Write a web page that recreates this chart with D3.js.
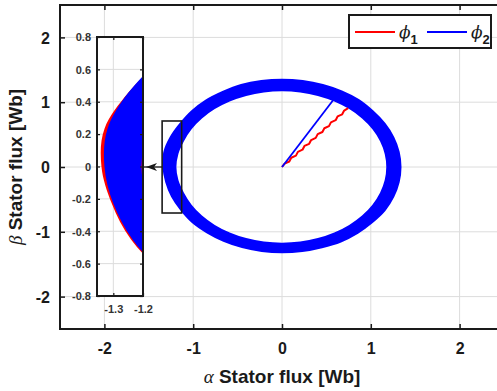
<!DOCTYPE html>
<html>
<head>
<meta charset="utf-8">
<script src="https://cdn.jsdelivr.net/npm/d3@7"></script>
<style>
  html, body { margin: 0; padding: 0; background: #fff; }
  svg { display: block; }
  text { font-family: "Liberation Sans", Arial, Helvetica, sans-serif; }
</style>
</head>
<body>
<svg id="chart" width="497" height="391"></svg>
<script>
// ---- tick values ----
const xTicks = [-2, -1, 0, 1, 2];
const yTicks = [-2, -1, 0, 1, 2];
const insetXTicks = [-1.3, -1.2];
const insetYTicks = [-0.8, -0.6, -0.4, -0.2, 0, 0.2, 0.4, 0.6, 0.8];

// ---- stator flux locus: envelope radii [Wb] of the trajectory band, every 10 deg ----
const fluxAngle = [0, 10, 20, 30, 40, 50, 60, 70, 80, 90, 100, 110, 120, 130, 140, 150, 160, 170,
                   180, 190, 200, 210, 220, 230, 240, 250, 260, 270, 280, 290, 300, 310, 320, 330, 340, 350];
const phi2Outer = [1.33, 1.33, 1.33, 1.33, 1.33, 1.34, 1.34, 1.34, 1.34, 1.34, 1.34, 1.34, 1.33, 1.33, 1.325, 1.32, 1.33, 1.34,
                   1.33, 1.32, 1.315, 1.31, 1.315, 1.31, 1.31, 1.31, 1.31, 1.31, 1.31, 1.31, 1.32, 1.32, 1.32, 1.33, 1.33, 1.33];
const phi2Inner = [1.19, 1.19, 1.19, 1.19, 1.19, 1.19, 1.19, 1.19, 1.19, 1.19, 1.19, 1.19, 1.19, 1.19, 1.19, 1.19, 1.19, 1.2,
                   1.205, 1.2, 1.19, 1.19, 1.19, 1.19, 1.19, 1.19, 1.19, 1.19, 1.19, 1.19, 1.19, 1.19, 1.19, 1.19, 1.19, 1.19];
const phi1Outer = [1.325, 1.325, 1.325, 1.325, 1.325, 1.335, 1.335, 1.335, 1.335, 1.335, 1.335, 1.335, 1.325, 1.325, 1.32, 1.315, 1.33, 1.35,
                   1.34, 1.325, 1.32, 1.31, 1.31, 1.305, 1.305, 1.305, 1.305, 1.305, 1.305, 1.305, 1.315, 1.315, 1.315, 1.325, 1.325, 1.325];
const phi1Inner = [1.195, 1.195, 1.195, 1.195, 1.195, 1.195, 1.195, 1.195, 1.195, 1.195, 1.195, 1.195, 1.195, 1.195, 1.195, 1.195, 1.195, 1.2,
                   1.2, 1.195, 1.195, 1.195, 1.195, 1.195, 1.195, 1.195, 1.195, 1.195, 1.195, 1.195, 1.195, 1.195, 1.195, 1.195, 1.195, 1.195];

// ---- flux space vectors ----
const phi1VecAlpha = [0, 0.030, 0.082, 0.104, 0.157, 0.179, 0.231, 0.253, 0.306, 0.328, 0.380,
                      0.402, 0.455, 0.477, 0.529, 0.551, 0.604, 0.626, 0.678, 0.700, 0.745];
const phi1VecBeta  = [0, 0.052, 0.085, 0.143, 0.176, 0.234, 0.267, 0.325, 0.358, 0.416, 0.449,
                      0.507, 0.540, 0.598, 0.631, 0.689, 0.722, 0.780, 0.813, 0.871, 0.910];
const phi2VecAlpha = [0, 0.575];
const phi2VecBeta  = [0, 1.03];

// ---- magnified region ----
const zoomAlpha = [-1.35, -1.13];
const zoomBeta  = [-0.71, 0.71];

const legendItems = [
  { name: "ϕ", sub: "1", color: "#ff0000" },
  { name: "ϕ", sub: "2", color: "#0000ff" }
];

const RED = "#ff0000", BLUE = "#0000ff", INK = "#1a1a1a", GRID = "#dcdcdc";

const svg = d3.select("#chart");

// main axes
const x = d3.scaleLinear().domain([-2.5, 2.5]).range([60, 504]);
const y = d3.scaleLinear().domain([-2.5, 2.5]).range([329, 5]);
// inset axes
const ix = d3.scaleLinear().domain([-1.355, -1.2]).range([97, 143]);
const iy = d3.scaleLinear().domain([-0.8, 0.8]).range([296, 37]);

const defs = svg.append("defs");
defs.append("clipPath").attr("id", "clipMain").append("rect")
  .attr("x", x.range()[0]).attr("y", y.range()[1])
  .attr("width", x.range()[1] - x.range()[0]).attr("height", y.range()[0] - y.range()[1]);
defs.append("clipPath").attr("id", "clipInset").append("rect")
  .attr("x", ix.range()[0]).attr("y", iy.range()[1])
  .attr("width", ix.range()[1] - ix.range()[0]).attr("height", iy.range()[0] - iy.range()[1]);

function loop(radii, sx, sy) {
  const pts = fluxAngle.map((a, i) => {
    const t = a * Math.PI / 180;
    return [sx(radii[i] * Math.cos(t)), sy(radii[i] * Math.sin(t))];
  });
  return d3.line().curve(d3.curveCardinalClosed)(pts);
}
function ring(outer, inner, sx, sy) { return loop(outer, sx, sy) + loop(inner, sx, sy); }

// ---------- main plot ----------
const grid = svg.append("g");
grid.selectAll(".gx").data(xTicks).join("line")
  .attr("x1", d => x(d)).attr("x2", d => x(d)).attr("y1", y.range()[1]).attr("y2", y.range()[0])
  .attr("stroke", GRID).attr("stroke-width", 1);
grid.selectAll(".gy").data(yTicks).join("line")
  .attr("y1", d => y(d)).attr("y2", d => y(d)).attr("x1", x.range()[0]).attr("x2", x.range()[1])
  .attr("stroke", GRID).attr("stroke-width", 1);

const plot = svg.append("g").attr("clip-path", "url(#clipMain)");
plot.append("path").attr("d", ring(phi1Outer, phi1Inner, x, y))
  .attr("fill", RED).attr("fill-rule", "evenodd");
plot.append("path").attr("d", ring(phi2Outer, phi2Inner, x, y))
  .attr("fill", BLUE).attr("fill-rule", "evenodd")
  .attr("stroke", BLUE).attr("stroke-width", 2.8);

const vecLine = d3.line().x(d => x(d[0])).y(d => y(d[1]));
plot.append("path").attr("d", vecLine(d3.zip(phi1VecAlpha, phi1VecBeta)))
  .attr("fill", "none").attr("stroke", RED).attr("stroke-width", 2).attr("stroke-linejoin", "round");
plot.append("path").attr("d", vecLine(d3.zip(phi2VecAlpha, phi2VecBeta)))
  .attr("fill", "none").attr("stroke", BLUE).attr("stroke-width", 1.8);

// magnified region box
plot.append("rect")
  .attr("x", x(zoomAlpha[0])).attr("y", y(zoomBeta[1]))
  .attr("width", x(zoomAlpha[1]) - x(zoomAlpha[0])).attr("height", y(zoomBeta[0]) - y(zoomBeta[1]))
  .attr("fill", "none").attr("stroke", INK).attr("stroke-width", 1.6);

// arrow from the region box to the inset
const ay = y(0);
const tipX = ix.range()[1] + 3;
svg.append("line").attr("x1", x(zoomAlpha[0])).attr("x2", ix.range()[1]).attr("y1", ay).attr("y2", ay)
  .attr("stroke", INK).attr("stroke-width", 1.3);
svg.append("path")
  .attr("d", `M${tipX},${ay} L${tipX + 11},${ay - 4} L${tipX + 8},${ay} L${tipX + 11},${ay + 4} Z`)
  .attr("fill", INK);

// main axes: ticks and labels
const fmt = d => String(d);
const axBottom = svg.append("g").attr("transform", `translate(0,${y.range()[0]})`)
  .call(d3.axisBottom(x).tickValues(xTicks).tickSize(-5).tickPadding(14).tickFormat(fmt));
const axTop = svg.append("g").attr("transform", `translate(0,${y.range()[1]})`)
  .call(d3.axisTop(x).tickValues(xTicks).tickSize(-5).tickFormat(""));
const axLeft = svg.append("g").attr("transform", `translate(${x.range()[0]},0)`)
  .call(d3.axisLeft(y).tickValues(yTicks).tickSize(-5).tickPadding(10).tickFormat(fmt));
[axBottom, axTop, axLeft].forEach(g => {
  g.select(".domain").remove();
  g.selectAll(".tick line").attr("stroke", INK).attr("stroke-width", 1.5);
  g.selectAll(".tick text").attr("fill", INK).attr("font-size", 16).attr("font-weight", "bold")
    .attr("font-family", "'Liberation Sans', Arial, sans-serif");
});
axLeft.selectAll(".tick text").attr("dy", "0.35em");

svg.append("rect")
  .attr("x", x.range()[0]).attr("y", y.range()[1])
  .attr("width", x.range()[1] - x.range()[0]).attr("height", y.range()[0] - y.range()[1])
  .attr("fill", "none").attr("stroke", INK).attr("stroke-width", 2);

// axis titles
const xTitle = svg.append("text").attr("x", x(0)).attr("y", 383).attr("text-anchor", "middle")
  .attr("font-size", 19).attr("font-weight", "bold").attr("fill", INK);
xTitle.append("tspan").attr("font-family", "'Liberation Serif', 'Times New Roman', serif")
  .attr("font-style", "italic").attr("font-weight", "normal").text("α");
xTitle.append("tspan").text(" Stator flux [Wb]");

const yTitle = svg.append("text").attr("transform", `translate(22,${y(0)}) rotate(-90)`)
  .attr("text-anchor", "middle").attr("font-size", 19).attr("font-weight", "bold").attr("fill", INK);
yTitle.append("tspan").attr("font-family", "'Liberation Serif', 'Times New Roman', serif")
  .attr("font-style", "italic").attr("font-weight", "normal").text("β");
yTitle.append("tspan").text(" Stator flux [Wb]");

// ---------- inset ----------
const inset = svg.append("g");
inset.append("rect")
  .attr("x", ix.range()[0]).attr("y", iy.range()[1])
  .attr("width", ix.range()[1] - ix.range()[0]).attr("height", iy.range()[0] - iy.range()[1])
  .attr("fill", "#fff");
inset.selectAll(".igx").data(insetXTicks).join("line")
  .attr("x1", d => ix(d)).attr("x2", d => ix(d)).attr("y1", iy.range()[1]).attr("y2", iy.range()[0])
  .attr("stroke", GRID);
inset.selectAll(".igy").data(insetYTicks).join("line")
  .attr("y1", d => iy(d)).attr("y2", d => iy(d)).attr("x1", ix.range()[0]).attr("x2", ix.range()[1])
  .attr("stroke", GRID);

const insetPlot = inset.append("g").attr("clip-path", "url(#clipInset)");
insetPlot.append("path").attr("d", ring(phi1Outer, phi1Inner, ix, iy))
  .attr("fill", RED).attr("fill-rule", "evenodd");
insetPlot.append("path").attr("d", ring(phi2Outer, phi2Inner, ix, iy))
  .attr("fill", BLUE).attr("fill-rule", "evenodd");

const ib = inset.append("g").attr("transform", `translate(0,${iy.range()[0]})`)
  .call(d3.axisBottom(ix).tickValues(insetXTicks).tickSize(-3).tickPadding(9).tickFormat(fmt));
const it = inset.append("g").attr("transform", `translate(0,${iy.range()[1]})`)
  .call(d3.axisTop(ix).tickValues(insetXTicks).tickSize(-3).tickFormat(""));
const il = inset.append("g").attr("transform", `translate(${ix.range()[0]},0)`)
  .call(d3.axisLeft(iy).tickValues(insetYTicks).tickSize(-3).tickPadding(6).tickFormat(fmt));
const ir = inset.append("g").attr("transform", `translate(${ix.range()[1]},0)`)
  .call(d3.axisRight(iy).tickValues(insetYTicks).tickSize(-3).tickFormat(""));
[ib, it, il, ir].forEach(g => {
  g.select(".domain").remove();
  g.selectAll(".tick line").attr("stroke", INK).attr("stroke-width", 1.2);
  g.selectAll(".tick text").attr("fill", "#333").attr("font-size", 11).attr("font-weight", "bold")
    .attr("font-family", "'Liberation Sans', Arial, sans-serif");
});
il.selectAll(".tick text").attr("dy", "0.35em");

inset.append("rect")
  .attr("x", ix.range()[0]).attr("y", iy.range()[1])
  .attr("width", ix.range()[1] - ix.range()[0]).attr("height", iy.range()[0] - iy.range()[1])
  .attr("fill", "none").attr("stroke", INK).attr("stroke-width", 2);

// ---------- legend ----------
const legend = svg.append("g").attr("transform", "translate(349,15)");
legend.append("rect").attr("width", 142).attr("height", 33)
  .attr("fill", "#fff").attr("stroke", INK).attr("stroke-width", 2);
const item = legend.selectAll(".item").data(legendItems).join("g")
  .attr("transform", (d, i) => `translate(${6 + i * 72},17)`);
item.append("line").attr("x1", 0).attr("x2", 40).attr("y1", 0).attr("y2", 0)
  .attr("stroke", d => d.color).attr("stroke-width", 2);
const lt = item.append("text").attr("x", 44).attr("y", 6).attr("fill", INK);
lt.append("tspan").attr("font-family", "'DejaVu Serif', 'Liberation Serif', serif")
  .attr("font-style", "italic").attr("font-size", 17).text(d => d.name);
lt.append("tspan").attr("dy", 6).attr("font-size", 13).attr("font-weight", "bold").text(d => d.sub);
</script>
</body>
</html>
